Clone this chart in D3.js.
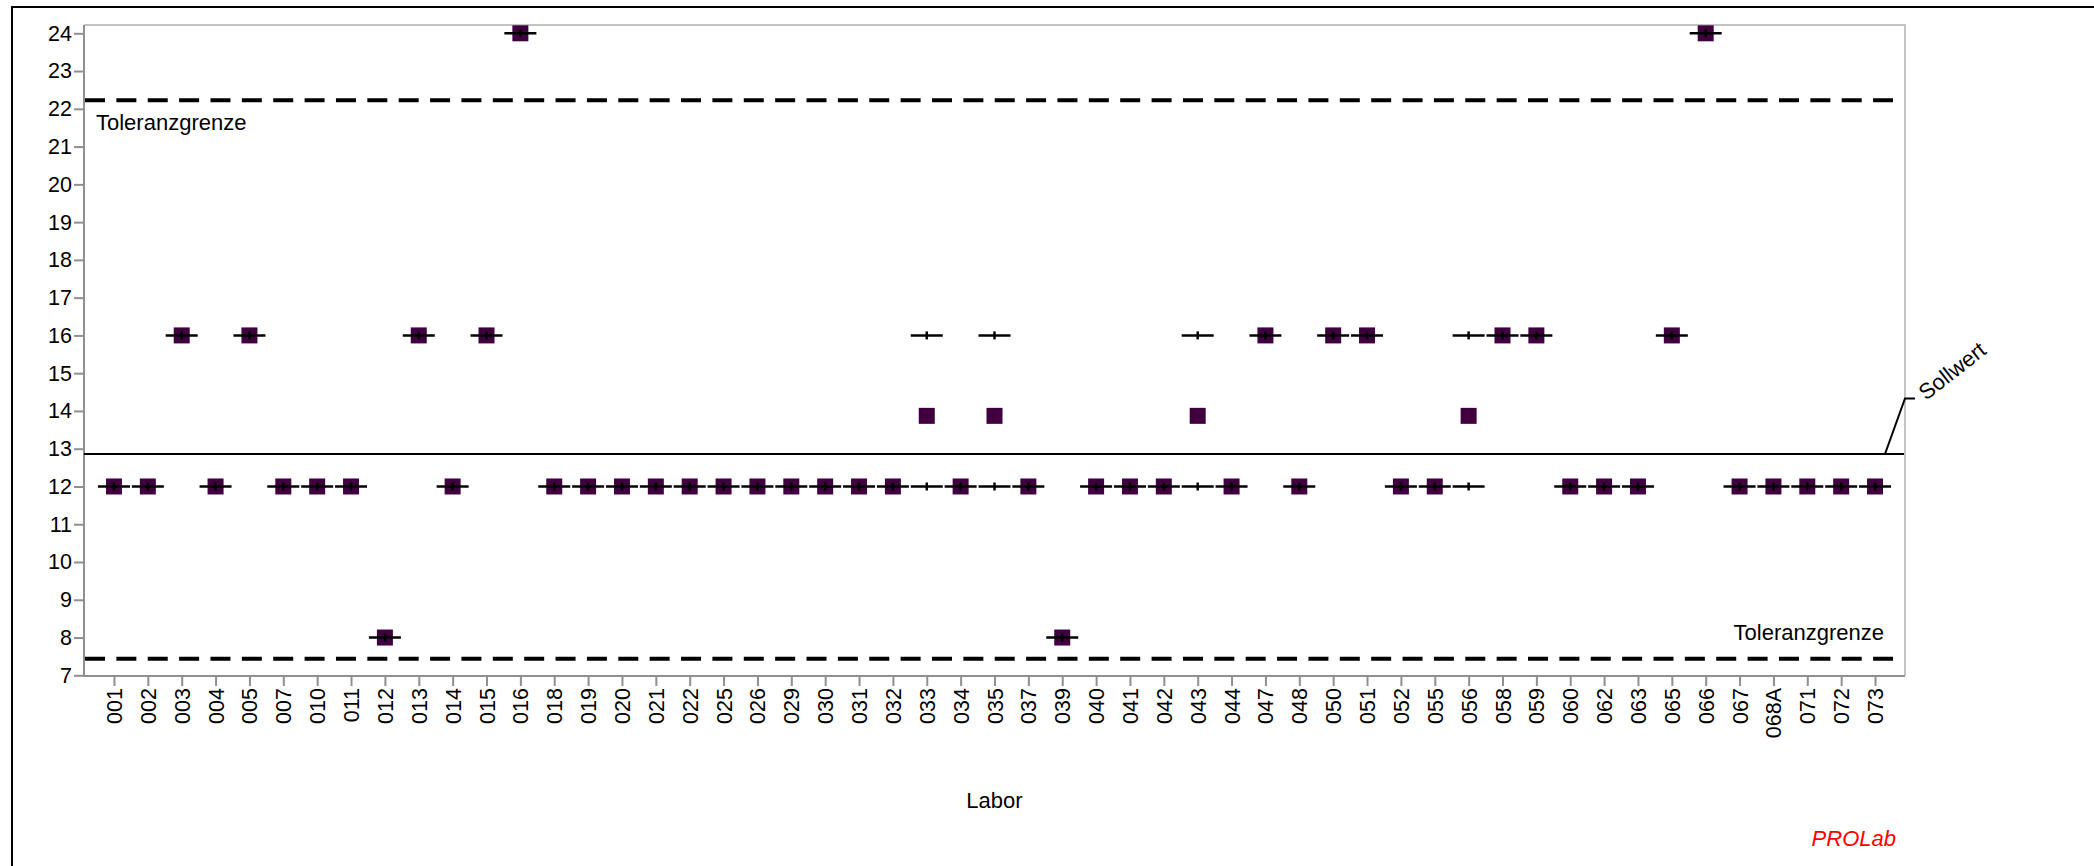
<!DOCTYPE html>
<html>
<head>
<meta charset="utf-8">
<script src="https://cdn.jsdelivr.net/npm/d3@7"></script>
<style>
html,body{margin:0;padding:0;background:#fff;}
svg{display:block;}
text{font-family:"Liberation Sans", Arial, sans-serif;}
</style>
</head>
<body>
<svg id="chart" width="2094" height="866"></svg>
<script>
const labs = ["001","002","003","004","005","007","010","011","012","013","014","015","016","018","019","020","021","022","025","026","029","030","031","032","033","034","035","037","039","040","041","042","043","044","047","048","050","051","052","055","056","058","059","060","062","063","065","066","067","068A","071","072","073"];
// first measurement per lab
const measurement1 = [12,12,16,12,16,12,12,12,8,16,12,16,24,12,12,12,12,12,12,12,12,12,12,12,16,12,16,12,8,12,12,12,16,12,16,12,16,16,12,12,16,16,16,12,12,12,16,24,12,12,12,12,12];
// second measurement per lab (null = single result)
const measurement2 = [null,null,null,null,null,null,null,null,null,null,null,null,null,null,null,null,null,null,null,null,null,null,null,null,12,null,12,null,null,null,null,null,12,null,null,null,null,null,null,null,12,null,null,null,null,null,null,null,null,null,null,null,null];
// lab mean (square marker)
const labMean = [12,12,16,12,16,12,12,12,8,16,12,16,24,12,12,12,12,12,12,12,12,12,12,12,13.87,12,13.87,12,8,12,12,12,13.87,12,16,12,16,16,12,12,13.87,16,16,12,12,12,16,24,12,12,12,12,12];
const yTickValues = [7,8,9,10,11,12,13,14,15,16,17,18,19,20,21,22,23,24];
const sollwert = 12.86;
const upperTolerance = 22.23;
const lowerTolerance = 7.44;
const toleranceLabel = "Toleranzgrenze";
const sollwertLabel = "Sollwert";
const xTitle = "Labor";
const brand = "PROLab";

(function(){
const svg = d3.select("#chart");
const pL = 84, pR = 1905, pT = 25, pB = 676;
const tickFont = "21.5px", annoFont = "22px";

// outer frame
svg.append("rect").attr("x",12).attr("y",7).attr("width",2300).attr("height",1000)
  .attr("fill","none").attr("stroke","#000").attr("stroke-width",2);

const x = d3.scalePoint().domain(labs).range([pL, pR]).padding(0.885);
const y = d3.scaleLinear().domain([7, 24]).range([675.3, 33.3]);

// plot frame top/right light gray
svg.append("path").attr("d", `M${pL},${pT}H${pR}V${pB}`)
  .attr("fill","none").attr("stroke","#c4c4c4").attr("stroke-width",2);

// y axis
const yAxis = svg.append("g").attr("transform",`translate(${pL},0)`)
  .call(d3.axisLeft(y).tickValues(yTickValues).tickSize(10).tickPadding(2).tickSizeOuter(0));
yAxis.select(".domain").remove();
yAxis.append("line").attr("x1",0).attr("x2",0).attr("y1",pT).attr("y2",pB+1)
  .attr("stroke","#8f8f8f").attr("stroke-width",2);
yAxis.selectAll(".tick line").attr("stroke","#8f8f8f").attr("stroke-width",2);
yAxis.selectAll(".tick text").attr("font-size",tickFont).attr("fill","#000")
  .attr("font-family","Liberation Sans, Arial, sans-serif");

// x axis
const xAxis = svg.append("g").attr("transform",`translate(0,${pB})`)
  .call(d3.axisBottom(x).tickSize(10).tickSizeOuter(0));
xAxis.select(".domain").remove();
xAxis.append("line").attr("x1",pL-1).attr("x2",pR).attr("y1",0).attr("y2",0)
  .attr("stroke","#8f8f8f").attr("stroke-width",2);
xAxis.selectAll(".tick line").attr("stroke","#8f8f8f").attr("stroke-width",2);
xAxis.selectAll(".tick text")
  .attr("font-size",tickFont).attr("fill","#000")
  .attr("font-family","Liberation Sans, Arial, sans-serif")
  .attr("transform","rotate(-90)")
  .attr("text-anchor","end")
  .attr("x",-12).attr("y",0).attr("dy","0.35em");

// tolerance lines
[upperTolerance, lowerTolerance].forEach(v => {
  svg.append("line").attr("x1",pL+1).attr("x2",1893).attr("y1",y(v)).attr("y2",y(v))
    .attr("stroke","#000").attr("stroke-width",4).attr("stroke-dasharray","20,11.37");
});
svg.append("text").attr("x",pL+12).attr("y",y(upperTolerance)+30)
  .attr("font-size",annoFont).text(toleranceLabel);
svg.append("text").attr("x",1884).attr("y",y(lowerTolerance)-18.5)
  .attr("text-anchor","end").attr("font-size",annoFont).text(toleranceLabel);

// sollwert line + leader
const ys = y(sollwert);
svg.append("line").attr("x1",pL).attr("x2",pR-1).attr("y1",ys).attr("y2",ys)
  .attr("stroke","#000").attr("stroke-width",2);
svg.append("path").attr("d",`M1885,${ys}L${pR},${ys-55.5}H1915`)
  .attr("fill","none").attr("stroke","#000").attr("stroke-width",2);
svg.append("text").attr("transform",`translate(1926,${ys-53}) rotate(-38)`)
  .attr("font-size",annoFont).text(sollwertLabel);

// squares (lab mean)
svg.append("g").selectAll("rect").data(labs).join("rect")
  .attr("x", (d,i) => x(d) - 8).attr("y", (d,i) => y(labMean[i]) - 8)
  .attr("width",16).attr("height",16).attr("fill","#400040");

// crosses (individual measurements)
const pts = [];
labs.forEach((d,i) => {
  pts.push({lab:d, v:measurement1[i]});
  if (measurement2[i] !== null) pts.push({lab:d, v:measurement2[i]});
});
const cg = svg.append("g").attr("stroke","#000").attr("stroke-width",2.5);
cg.selectAll("line.h").data(pts).join("line").attr("class","h")
  .attr("x1",d => x(d.lab)-16).attr("x2",d => x(d.lab)+16)
  .attr("y1",d => y(d.v)).attr("y2",d => y(d.v));
cg.selectAll("line.v").data(pts).join("line").attr("class","v")
  .attr("x1",d => x(d.lab)).attr("x2",d => x(d.lab))
  .attr("y1",d => y(d.v)-4).attr("y2",d => y(d.v)+4);

// titles
svg.append("text").attr("x",(pL+pR)/2).attr("y",808).attr("text-anchor","middle")
  .attr("font-size",annoFont).text(xTitle);
svg.append("text").attr("x",1896).attr("y",846).attr("text-anchor","end")
  .attr("font-size",annoFont).attr("font-style","italic").attr("fill","#ff0000").text(brand);
})();
</script>
</body>
</html>
